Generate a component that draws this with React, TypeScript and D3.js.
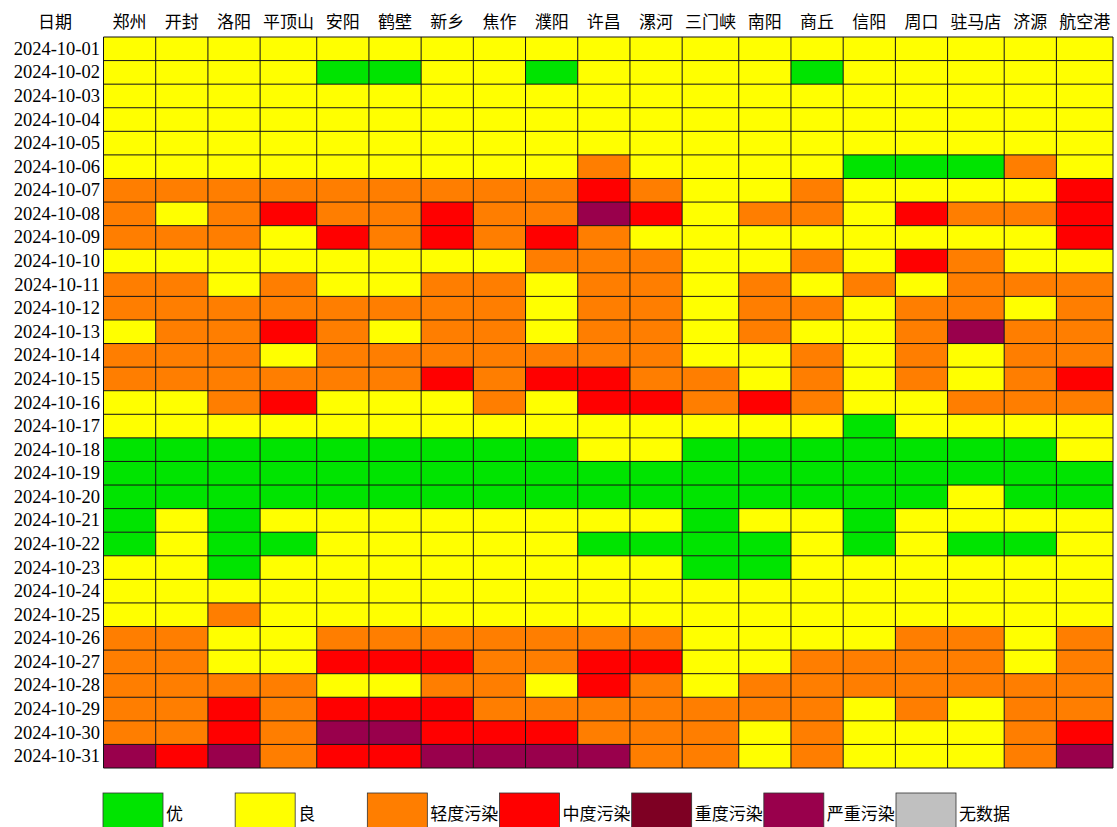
import * as d3 from 'd3'

const CITIES = ['郑州','开封','洛阳','平顶山','安阳','鹤壁','新乡','焦作','濮阳','许昌','漯河','三门峡','南阳','商丘','信阳','周口','驻马店','济源','航空港']
const DATES = d3.range(1, 32).map(d => `2024-10-${String(d).padStart(2, '0')}`)
const LEVELS = ['优','良','轻度污染','中度污染','重度污染','严重污染','无数据']
const LEVEL_COLORS = ['#00e400','#ffff00','#ff7e00','#ff0000','#7e0023','#99004c','#c0c0c0']

// one string per day, one digit per city: 1 优 2 良 3 轻度 4 中度 5 重度 6 严重
const GRADES = [
  '2222222222222222222',
  '2222112212222122222',
  '2222222222222222222',
  '2222222222222222222',
  '2222222222222222222',
  '2222222223222211132',
  '3333333334322322224',
  '3234334336423324334',
  '3332434343222222224',
  '2222222233322324322',
  '3323223323323232333',
  '3333333323323323323',
  '2334323323323223633',
  '3332333333322323233',
  '3333334344332323234',
  '2234222324434322333',
  '2222222222222212222',
  '1111111112211111112',
  '1111111111111111111',
  '1111111111111111211',
  '1212222222212212222',
  '1211222221111212112',
  '2212222222211222222',
  '2222222222222222222',
  '2232222222222222222',
  '3322333333322223323',
  '3322444334422333323',
  '3333223324323333333',
  '3343444333333323233',
  '3343664443332322234',
  '6463446666332322236',
]

export default function App() {
  const W = 1117, H = 827
  const left = 103.5, right = 1113, top = 37, bottom = 768

  const widths = CITIES.map(c => (c.length === 3 ? 56.6 : 52.2))
  const edges = [0, ...d3.cumsum(widths)]
  const x = d3.scaleLinear().domain([0, edges[edges.length - 1]]).range([left, right])
  const y = d3.scaleBand<string>().domain(DATES).range([top, bottom])
  const color = d3.scaleOrdinal<number, string>().domain(d3.range(1, 8)).range(LEVEL_COLORS)
  const legendX = d3.scalePoint<string>().domain(LEVELS).range([103, 896])

  const cjk = '"Noto Sans CJK SC", "Noto Sans", sans-serif'
  const serif = '"Liberation Serif", "DejaVu Serif", serif'

  return (
    <div style={{ position: 'absolute', left: 0, top: 0, background: '#fff' }}>
      <svg width={W} height={H} style={{ display: 'block' }}>
        <text x={55} y={20} textAnchor="middle" dominantBaseline="central" fontFamily={cjk} fontSize={17}>日期</text>
        {CITIES.map((c, i) => (
          <text key={c} x={(x(edges[i]) + x(edges[i + 1])) / 2} y={20} textAnchor="middle"
            dominantBaseline="central" fontFamily={cjk} fontSize={17}>{c}</text>
        ))}
        {DATES.map(d => (
          <text key={d} x={100} y={(y(d) ?? 0) + y.bandwidth() / 2} textAnchor="end"
            dominantBaseline="central" fontFamily={serif} fontSize={18.5}>{d}</text>
        ))}
        {GRADES.map((row, r) => row.split('').map((g, i) => (
          <rect key={`${r}-${i}`} x={x(edges[i])} y={y(DATES[r])} width={x(edges[i + 1]) - x(edges[i])}
            height={y.bandwidth()} fill={color(+g)} />
        )))}
        {edges.map((e, i) => (
          <line key={'v' + i} x1={x(e)} x2={x(e)} y1={top} y2={bottom} stroke="#111" strokeWidth={1} />
        ))}
        {[...DATES, null].map((d, i) => {
          const yy = d ? (y(d) ?? 0) : bottom
          return <line key={'h' + i} x1={left} x2={right} y1={yy} y2={yy} stroke="#111" strokeWidth={1} />
        })}
        {LEVELS.map((l, i) => (
          <g key={l} transform={`translate(${legendX(l)},793)`}>
            <rect x={0} y={0} width={60} height={40} fill={LEVEL_COLORS[i]} stroke="#333" strokeWidth={0.8} />
            <text x={63} y={19} dominantBaseline="central" fontFamily={cjk} fontSize={17}>{l}</text>
          </g>
        ))}
      </svg>
    </div>
  )
}
